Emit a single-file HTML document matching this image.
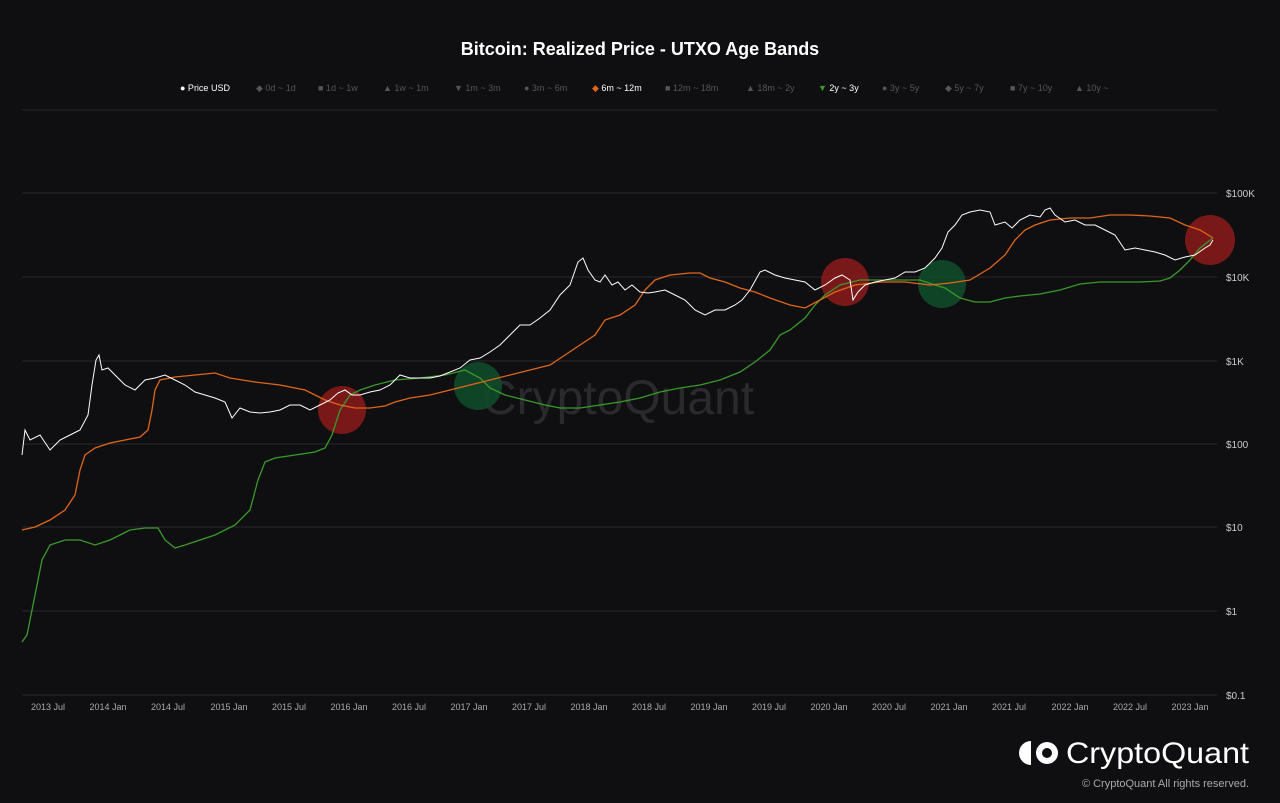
<!DOCTYPE html>
<html><head><meta charset="utf-8"><style>
html,body{margin:0;padding:0;background:#0f0f11;}
body{width:1280px;height:803px;overflow:hidden;font-family:"Liberation Sans",sans-serif;}
</style></head><body>
<svg width="1280" height="803" xmlns="http://www.w3.org/2000/svg" style="display:block">
<rect width="1280" height="803" fill="#0f0f11"/>
<text x="640" y="55" fill="#fff" font-size="18" font-weight="bold" text-anchor="middle">Bitcoin: Realized Price - UTXO Age Bands</text>
<g font-size="9" fill="#555">
<text x="180" y="91" fill="#fff">● Price USD</text>
<text x="256" y="91">◆ 0d ~ 1d</text>
<text x="318" y="91">■ 1d ~ 1w</text>
<text x="383" y="91">▲ 1w ~ 1m</text>
<text x="454" y="91">▼ 1m ~ 3m</text>
<text x="524" y="91">● 3m ~ 6m</text>
<text x="592" y="91" fill="#fff"><tspan fill="#e0661a">◆</tspan> 6m ~ 12m</text>
<text x="665" y="91">■ 12m ~ 18m</text>
<text x="746" y="91">▲ 18m ~ 2y</text>
<text x="818" y="91" fill="#fff"><tspan fill="#3a9a2a">▼</tspan> 2y ~ 3y</text>
<text x="882" y="91">● 3y ~ 5y</text>
<text x="945" y="91">◆ 5y ~ 7y</text>
<text x="1010" y="91">■ 7y ~ 10y</text>
<text x="1075" y="91">▲ 10y ~</text>
</g>
<g stroke="#2a2a2e" stroke-width="1">
<line x1="22" x2="1217" y1="110" y2="110"/>
<line x1="22" x2="1217" y1="193" y2="193"/>
<line x1="22" x2="1217" y1="277" y2="277"/>
<line x1="22" x2="1217" y1="361" y2="361"/>
<line x1="22" x2="1217" y1="444" y2="444"/>
<line x1="22" x2="1217" y1="527" y2="527"/>
<line x1="22" x2="1217" y1="611" y2="611"/>
<line x1="22" x2="1217" y1="695" y2="695"/>
</g>
<g fill="#ccc" font-size="10">
<text x="1226" y="197">$100K</text><text x="1226" y="281">$10K</text><text x="1226" y="365">$1K</text>
<text x="1226" y="448">$100</text><text x="1226" y="531">$10</text><text x="1226" y="615">$1</text><text x="1226" y="699">$0.1</text>
</g>
<g fill="#aaa" font-size="9" text-anchor="middle">
<text x="48" y="710">2013 Jul</text><text x="108" y="710">2014 Jan</text><text x="168" y="710">2014 Jul</text>
<text x="229" y="710">2015 Jan</text><text x="289" y="710">2015 Jul</text><text x="349" y="710">2016 Jan</text>
<text x="409" y="710">2016 Jul</text><text x="469" y="710">2017 Jan</text><text x="529" y="710">2017 Jul</text>
<text x="589" y="710">2018 Jan</text><text x="649" y="710">2018 Jul</text><text x="709" y="710">2019 Jan</text>
<text x="769" y="710">2019 Jul</text><text x="829" y="710">2020 Jan</text><text x="889" y="710">2020 Jul</text>
<text x="949" y="710">2021 Jan</text><text x="1009" y="710">2021 Jul</text><text x="1070" y="710">2022 Jan</text>
<text x="1130" y="710">2022 Jul</text><text x="1190" y="710">2023 Jan</text>
</g>
<text x="618" y="414" fill="#2a2a2e" font-size="48" text-anchor="middle">CryptoQuant</text>
<g>
<circle cx="342" cy="410" r="24" fill="#8b1a1a" fill-opacity="0.85"/>
<circle cx="478" cy="386" r="24" fill="#114a2a" fill-opacity="0.9"/>
<circle cx="845" cy="282" r="24" fill="#8b1a1a" fill-opacity="0.85"/>
<circle cx="942" cy="284" r="24" fill="#114a2a" fill-opacity="0.9"/>
<circle cx="1210" cy="240" r="25" fill="#8b1a1a" fill-opacity="0.85"/>
</g>
<polyline fill="none" stroke="#3a9a2a" stroke-width="1.3" points="22,642 27,635 33,605 38,580 42,560 50,545 65,540 80,540 95,545 110,540 120,535 130,530 145,528 158,528 165,540 175,548 185,545 200,540 215,535 235,525 250,510 258,480 265,462 275,458 295,455 315,452 325,448 332,435 340,410 350,395 360,390 375,385 395,380 420,378 445,375 465,370 480,378 490,388 505,395 525,400 545,405 560,408 580,408 600,405 620,402 640,398 660,392 680,388 700,385 720,380 740,372 755,362 770,350 780,335 790,330 805,318 815,305 825,295 840,285 860,280 880,280 900,280 920,280 935,285 945,288 960,298 975,302 990,302 1005,298 1020,296 1040,294 1060,290 1080,284 1100,282 1120,282 1140,282 1160,281 1170,278 1180,270 1190,260 1200,248 1213,238"/>
<polyline fill="none" stroke="#e0661a" stroke-width="1.3" points="22,530 35,527 50,520 65,510 75,495 80,470 85,455 95,448 110,443 125,440 140,437 148,430 152,410 155,390 160,380 175,377 195,375 215,373 230,378 255,382 280,385 305,390 325,400 340,405 355,408 370,408 385,406 395,402 410,398 430,395 450,390 470,385 490,380 510,375 530,370 550,365 565,355 580,345 595,335 605,320 620,315 635,305 645,290 655,280 670,275 690,273 700,273 710,278 725,282 740,288 755,292 770,298 790,305 805,308 820,300 835,292 855,285 880,282 905,282 930,285 950,283 970,280 990,268 1005,255 1015,240 1025,230 1035,225 1050,220 1070,218 1090,218 1110,215 1130,215 1150,216 1170,218 1185,225 1200,230 1213,238"/>
<polyline fill="none" stroke="#fff" stroke-width="1" points="22,455 25,430 30,440 40,435 50,450 60,440 70,435 80,430 88,415 92,385 96,360 99,355 102,370 108,368 115,375 125,385 135,390 145,380 155,378 165,375 175,380 185,385 195,392 205,395 215,398 225,402 232,418 240,408 250,412 260,413 270,412 280,410 290,405 300,405 310,410 320,405 330,400 338,393 345,390 352,395 360,395 370,392 380,390 390,385 400,375 410,378 420,378 430,378 440,376 450,372 460,368 470,360 480,358 490,352 500,345 510,335 520,325 530,325 540,318 550,310 560,295 570,285 578,262 583,258 588,270 595,280 600,282 605,275 612,285 618,282 625,290 632,285 640,292 648,293 655,292 665,290 675,295 685,300 695,310 705,315 715,310 725,310 735,305 742,300 750,290 760,272 765,270 775,275 785,278 795,280 805,282 815,290 825,285 835,278 842,275 850,280 853,300 858,292 865,285 875,282 885,280 895,278 905,272 915,272 925,268 935,258 942,248 948,232 955,225 962,215 970,212 980,210 990,212 995,225 1005,222 1012,228 1020,220 1030,215 1040,217 1045,210 1050,208 1055,215 1065,222 1075,220 1085,225 1095,225 1105,230 1115,235 1125,250 1135,248 1145,250 1155,252 1165,255 1175,260 1185,257 1195,255 1205,248 1210,245 1213,240"/>
<g fill="#fff">
<path d="M1031,741 a12,12 0 0 0 0,24 z"/>
<circle cx="1047" cy="753" r="11"/>
<circle cx="1047" cy="753" r="5" fill="#0f0f11"/>
</g>
<text x="1066" y="763" fill="#fff" font-size="30" textLength="183" lengthAdjust="spacingAndGlyphs">CryptoQuant</text>
<text x="1249" y="787" fill="#aaa" font-size="11" text-anchor="end">© CryptoQuant All rights reserved.</text>
</svg>
</body></html>
